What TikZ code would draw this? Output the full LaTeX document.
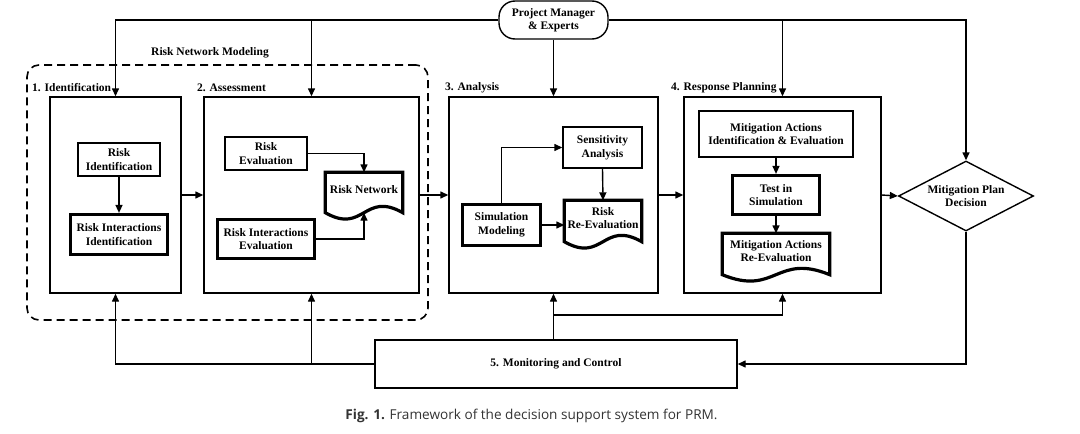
\documentclass[tikz,border=0pt]{standalone}
\usepackage{fontspec}
\setmainfont{Liberation Serif}
\newfontfamily\capfont{Open Sans}
\usetikzlibrary{arrows.meta,shapes.geometric,calc}
\newcommand\fsz{\fontsize{11.5}{13.5}\selectfont\bfseries}
\tikzset{
  lbl/.style={font=\fsz, align=center, inner sep=0pt},
  stage/.style={draw, line width=1.4pt, minimum height=196, inner sep=0pt},
  thinbox/.style={draw, line width=1.4pt, align=center, font=\fsz, inner sep=0pt},
  thickbox/.style={draw, line width=3.2pt, align=center, font=\fsz, inner sep=0pt},
  docnode/.style={inner sep=0pt},
  docline/.style={line width=3.2pt},
  arr/.style={line width=1.4pt, -{Triangle[length=8pt,width=7pt]}},
  ln/.style={line width=1.4pt},
}
\newcommand\docwave[1]{\draw[docline] (#1.south west) -- (#1.north west) -- (#1.north east) -- (#1.south east) .. controls ($(#1.south)+(0,-22)$) and ($(#1.south)+(0,22)$) .. (#1.south west) -- cycle;}
\begin{document}
\begin{tikzpicture}[x=1pt,y=-1pt]
\useasboundingbox (0,0) rectangle (1080,434);

% group
\node[draw, dash pattern=on 8pt off 5pt, rounded corners=12pt, line width=1.6pt,
      minimum width=401, minimum height=255, inner sep=0pt] (rnm) at (227.5,192.5) {};
\node[lbl] (rnmlbl) at (210,53) {Risk Network Modeling};

% stages
\node[stage, minimum width=131] (ident) at (115.5,195) {};
\node[stage, minimum width=215] (assess) at (311.5,195) {};
\node[stage, minimum width=209] (analysis) at (553.5,195) {};
\node[stage, minimum width=197] (resp) at (782.5,195) {};

\node[lbl, anchor=west] (l1) at (32,88) {1. Identification};
\node[lbl, anchor=west] (l2) at (197,88) {2. Assessment};
\node[lbl, anchor=west] (l3) at (445,88) {3. Analysis};
\node[lbl, anchor=west] (l4) at (671,88) {4. Response Planning};

% top
\node[draw, line width=1.4pt, rounded corners=16pt, minimum width=109, minimum height=38,
      align=center, font=\fsz, inner sep=0pt] (pm) at (553.5,20) {Project Manager\\\& Experts};

% identification
\node[thinbox, minimum width=82, minimum height=33] (rid) at (119,159.5) {Risk\\Identification};
\node[thickbox, minimum width=97, minimum height=40] (rii) at (119,234.5) {Risk Interactions\\Identification};

% assessment
\node[thinbox, minimum width=82, minimum height=33] (rev) at (266,153.5) {Risk\\Evaluation};
\node[thickbox, minimum width=97, minimum height=39] (rie) at (266,239) {Risk Interactions\\Evaluation};
\node[docnode, minimum width=77, minimum height=40,
      label={[lbl, yshift=3pt]center:Risk Network}] (rnet) at (364,192.5) {};
\docwave{rnet}

% analysis
\node[thinbox, minimum width=79, minimum height=41] (sens) at (602.5,147.5) {Sensitivity\\Analysis};
\node[thickbox, minimum width=78, minimum height=41] (sim) at (501.5,225) {Simulation\\Modeling};
\node[docnode, minimum width=77, minimum height=41,
      label={[lbl, yshift=3pt]center:{Risk\\Re-Evaluation}}] (rre) at (603,221) {};
\docwave{rre}

% response
\node[thinbox, minimum width=154, minimum height=46] (mai) at (776,134) {Mitigation Actions\\Identification \& Evaluation};
\node[thickbox, minimum width=87, minimum height=39] (tis) at (776,195) {Test in\\Simulation};
\node[docnode, minimum width=107, minimum height=41,
      label={[lbl, yshift=3pt]center:{Mitigation Actions\\Re-Evaluation}}] (mare) at (776,254) {};
\docwave{mare}

% decision
\node[draw, diamond, line width=1.4pt, aspect=2, minimum width=135, minimum height=70,
      inner sep=0pt, align=center, font=\fsz] (dec) at (966,196) {Mitigation Plan\\Decision};

% monitoring
\node[thinbox, minimum width=362, minimum height=48] (mon) at (556,364) {5. Monitoring and Control};

% caption
\node[font=\capfont\fontsize{13.6}{16}\selectfont, text=black!80, inner sep=0pt] (cap) at (531.5,416)
  {\textbf{Fig. 1.} Framework of the decision support system for PRM.};

% top connectors
\draw[arr] (pm.west) -| (ident.north);
\draw[arr] (pm.west -| assess.north) -- (assess.north);
\draw[arr] (pm.south) -- (analysis.north);
\draw[arr] (pm.east) -| (dec.north);
\draw[arr] (pm.east -| resp.north) -- (resp.north);

% inner connectors
\draw[arr] (rid) -- (rii);
\draw[arr] (rev.east) -| (rnet.north);
\draw[arr] (rie.east) -| (rnet.south);
\draw[arr] (sim.north) |- (sens.west);
\draw[arr] (sens.south) -- (rre.north);
\draw[arr] (sim.east) -- (sim.east -| rre.west);
\draw[arr] (mai) -- (tis);
\draw[arr] (tis) -- (mare);

% stage connectors
\draw[arr] (ident.east) -- (assess.west);
\draw[arr] (assess.east) -- (analysis.west);
\draw[arr] (analysis.east) -- (resp.west);
\draw[arr] (resp.east) -- (dec.west);

% feedback
\coordinate (br) at (553.5,315);
\draw[arr] (mon.west) -| (ident.south);
\draw[arr] (mon.west -| assess.south) -- (assess.south);
\draw[arr] (analysis.south |- mon.north) -- (analysis.south);
\draw[arr] (br) -| (resp.south);
\draw[arr] (dec.south) |- (mon.east);
\end{tikzpicture}
\end{document}
